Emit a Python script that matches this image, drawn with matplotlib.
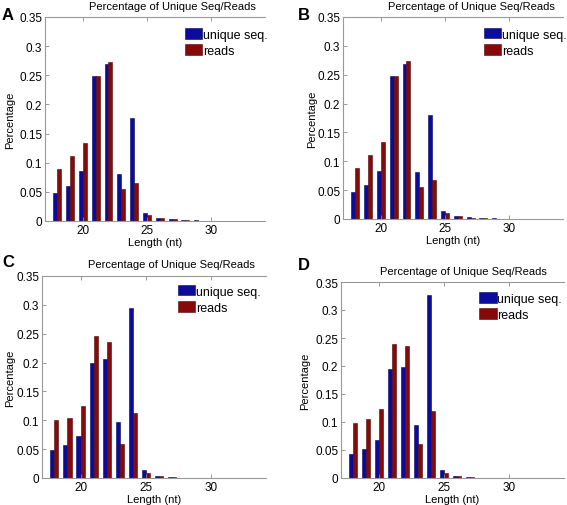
import matplotlib
matplotlib.use("Agg")
import matplotlib.pyplot as plt
import numpy as np

plt.rcParams['font.family'] = ['Liberation Sans', 'DejaVu Sans']

# read lengths (nt)
lengths = [18, 19, 20, 21, 22, 23, 24, 25, 26, 27, 28, 29, 30, 31]

# panel A
uniq_a = [0.048, 0.060, 0.086, 0.249, 0.270, 0.080, 0.177, 0.013, 0.006, 0.003, 0.002, 0.001, 0.0005, 0.0003]
reads_a = [0.089, 0.112, 0.134, 0.249, 0.273, 0.055, 0.066, 0.010, 0.005, 0.003, 0.0015, 0.0008, 0.0004, 0.0002]
# panel B
uniq_b = [0.047, 0.059, 0.084, 0.248, 0.268, 0.081, 0.181, 0.014, 0.006, 0.003, 0.002, 0.001, 0.0005, 0.0003]
reads_b = [0.089, 0.111, 0.134, 0.248, 0.273, 0.055, 0.068, 0.010, 0.005, 0.002, 0.0015, 0.0008, 0.0004, 0.0002]
# panel C
uniq_c = [0.048, 0.057, 0.073, 0.200, 0.206, 0.097, 0.295, 0.014, 0.004, 0.001, 0.0005, 0.0003, 0.0002, 0.0001]
reads_c = [0.100, 0.104, 0.125, 0.246, 0.236, 0.059, 0.112, 0.009, 0.003, 0.001, 0.0005, 0.0003, 0.0002, 0.0001]
# panel D
uniq_d = [0.043, 0.052, 0.067, 0.195, 0.198, 0.094, 0.326, 0.015, 0.004, 0.001, 0.0005, 0.0003, 0.0002, 0.0001]
reads_d = [0.099, 0.105, 0.124, 0.239, 0.236, 0.060, 0.120, 0.009, 0.003, 0.001, 0.0005, 0.0003, 0.0002, 0.0001]

letters = ['A', 'B', 'C', 'D']
series = [(uniq_a, reads_a), (uniq_b, reads_b), (uniq_c, reads_c), (uniq_d, reads_d)]

blue = '#0b0b9c'
red = '#850a0a'

fig = plt.figure(figsize=(5.67, 5.06), dpi=100)
W, H = 567.0, 506.0
# axes boxes in pixels: left, top, right, bottom
boxes = [(45, 18, 265, 222), (343, 18, 563, 220), (42, 277, 266, 479), (341, 283, 564, 479)]
leg_pos = [(0.636, 0.945), (0.64, 0.945), (0.607, 0.955), (0.619, 0.948)]
title_pos = [(172, 10), (471, 10), (171, 268), (463, 275)]
letter_pos = [(2, 20), (298, 20), (2, 267), (298, 270)]
ylab_x = [-0.136, -0.118, -0.12, -0.139]

x = np.array(lengths)
bw = 0.31
for i, (u, r) in enumerate(series):
    l, t, rr, b = boxes[i]
    ax = fig.add_axes([l / W, 1 - b / H, (rr - l) / W, (b - t) / H])
    ax.bar(x - bw / 2, u, bw, color=blue, edgecolor='#050560', linewidth=0.4, label='unique seq.')
    ax.bar(x + bw / 2, r, bw, color=red, edgecolor='#500505', linewidth=0.4, label='reads')
    ax.set_xlim(17.05, 34.2)
    ax.set_ylim(0, 0.35)
    ax.set_xticks([20, 25, 30])
    ax.set_yticks(np.arange(0, 0.351, 0.05))
    ax.set_yticklabels(['0', '0.05', '0.1', '0.15', '0.2', '0.25', '0.3', '0.35'])
    ax.tick_params(direction='in', length=3, width=0.6, color='#888888', labelsize=8.5, pad=2)
    ax.tick_params(axis='x', top=True, pad=2.5)
    for s in ['left', 'top', 'bottom']:
        ax.spines[s].set_color('#999999')
        ax.spines[s].set_linewidth(0.8)
    ax.spines['right'].set_visible(False)
    ax.set_xlabel('Length (nt)', fontsize=8)
    ax.set_ylabel('Percentage', fontsize=8)
    ax.xaxis.set_label_coords(0.5, -0.08)
    ax.yaxis.set_label_coords(ylab_x[i], 0.5)
    fig.text(title_pos[i][0] / W, 1 - title_pos[i][1] / H, 'Percentage of Unique Seq/Reads',
             ha='center', va='baseline', fontsize=8)
    ax.legend(loc='upper left', bbox_to_anchor=leg_pos[i], frameon=False, fontsize=9,
              borderpad=0, handlelength=1.4, handleheight=0.9, handletextpad=0.05,
              labelspacing=0.3, borderaxespad=0)
    fig.text(letter_pos[i][0] / W, 1 - letter_pos[i][1] / H, letters[i],
             fontsize=12, fontweight='bold', ha='left', va='baseline')

fig.savefig('out.png', dpi=100)
